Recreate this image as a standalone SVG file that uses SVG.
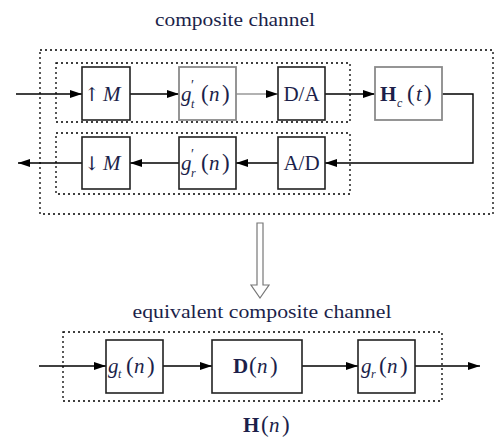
<svg xmlns="http://www.w3.org/2000/svg" width="499" height="441" viewBox="0 0 499 441">
<defs>
<marker id="ah" markerWidth="12" markerHeight="8" refX="12" refY="4" orient="auto" markerUnits="userSpaceOnUse">
<path d="M0,0 L12,4 L0,8 Z" fill="#000"/>
</marker>
<style>
.dot{fill:none;stroke:#000;stroke-width:1.3;stroke-dasharray:2 3}
.box{fill:#fff;stroke:#222;stroke-width:1.6}
.gbox{fill:#fff;stroke:#8a8a8a;stroke-width:1.8}
.ln{fill:none;stroke:#000;stroke-width:1.4}
.t{font-family:"Liberation Serif","Times New Roman",serif;font-size:21px;fill:#1c1f4a}
.i{font-style:italic}
.b{font-weight:bold}
.s{font-size:12px}
.pr{font-size:14px}
.p{font-size:23px}
.lbl{font-family:"Liberation Serif","Times New Roman",serif;font-size:19px;fill:#1c1f4a;text-anchor:middle}
</style>
</defs>
<rect width="499" height="441" fill="#fff"/>

<text class="lbl" x="235" y="26" textLength="160" lengthAdjust="spacingAndGlyphs">composite channel</text>

<g id="outer-box"><rect class="dot" x="40" y="50" width="453" height="164"/></g>
<g id="tx-box"><rect class="dot" x="56" y="63" width="294" height="59"/></g>
<g id="rx-box"><rect class="dot" x="56" y="133" width="294" height="61"/></g>

<g id="connectors">
<line class="ln" x1="16" y1="94" x2="82" y2="94" marker-end="url(#ah)"/>
<line class="ln" x1="130" y1="94" x2="179" y2="94" marker-end="url(#ah)"/>
<line class="ln" x1="236" y1="94" x2="278" y2="94" marker-end="url(#ah)" style="stroke:#999"/>
<line class="ln" x1="325" y1="94" x2="375" y2="94" marker-end="url(#ah)"/>
<path class="ln" d="M442,94 H473 V163 H325" marker-end="url(#ah)"/>
<line class="ln" x1="278" y1="163" x2="236" y2="163" marker-end="url(#ah)"/>
<line class="ln" x1="179" y1="163" x2="130" y2="163" marker-end="url(#ah)"/>
<line class="ln" x1="82" y1="163" x2="18" y2="163" marker-end="url(#ah)"/>
<line class="ln" x1="39" y1="366" x2="106" y2="366" marker-end="url(#ah)"/>
<line class="ln" x1="163" y1="366" x2="212" y2="366" marker-end="url(#ah)"/>
<line class="ln" x1="302" y1="366" x2="358" y2="366" marker-end="url(#ah)"/>
<line class="ln" x1="415" y1="366" x2="480" y2="366" marker-end="url(#ah)"/>
</g>

<g id="upsample">
<rect class="box" x="82" y="67" width="48" height="53"/>
<text class="t" y="101"><tspan x="84" font-family="DejaVu Serif" font-size="19">↑</tspan><tspan class="i" x="103">M</tspan></text>
</g>
<g id="gt-prime">
<rect class="gbox" x="179" y="67" width="57" height="53"/>
<text class="t" y="101"><tspan class="i" x="181">g</tspan><tspan class="pr" x="191" y="90">′</tspan><tspan class="i s" x="191" y="108">t</tspan><tspan class="p" x="201" y="101">(</tspan><tspan class="i" x="209" y="101">n</tspan><tspan class="p" x="222" y="101">)</tspan></text>
</g>
<g id="da">
<rect class="box" x="278" y="67" width="47" height="53"/>
<text class="t" x="301.5" y="101" text-anchor="middle">D/A</text>
</g>
<g id="hc">
<rect class="gbox" x="375" y="67" width="67" height="53"/>
<text class="t" y="101"><tspan class="b" x="380">H</tspan><tspan class="i s" x="397" y="107">c</tspan><tspan class="p" x="407" y="101">(</tspan><tspan class="i" x="416" y="101">t</tspan><tspan class="p" x="424" y="101">)</tspan></text>
</g>
<g id="ad">
<rect class="box" x="278" y="137" width="47" height="52"/>
<text class="t" x="301.5" y="170" text-anchor="middle">A/D</text>
</g>
<g id="gr-prime">
<rect class="box" x="179" y="137" width="57" height="52"/>
<text class="t" y="170"><tspan class="i" x="181">g</tspan><tspan class="pr" x="191" y="159">′</tspan><tspan class="i s" x="191" y="177">r</tspan><tspan class="p" x="201" y="170">(</tspan><tspan class="i" x="209" y="170">n</tspan><tspan class="p" x="222" y="170">)</tspan></text>
</g>
<g id="downsample">
<rect class="box" x="82" y="137" width="48" height="52"/>
<text class="t" y="170"><tspan x="84" font-family="DejaVu Serif" font-size="19">↓</tspan><tspan class="i" x="103">M</tspan></text>
</g>

<g id="transform-arrow">
<path d="M257,223 H263 V285 H269 L260,298 L251,285 H257 Z" fill="#fff" stroke="#777" stroke-width="1.2"/>
</g>

<text class="lbl" x="262" y="318" textLength="259" lengthAdjust="spacingAndGlyphs">equivalent composite channel</text>

<g id="equiv-box"><rect class="dot" x="63" y="332" width="379" height="69"/></g>

<g id="gt">
<rect class="box" x="106" y="340" width="57" height="53"/>
<text class="t" y="373"><tspan class="i" x="108">g</tspan><tspan class="i s" x="118" y="378">t</tspan><tspan class="p" x="126" y="373">(</tspan><tspan class="i" x="134" y="373">n</tspan><tspan class="p" x="147" y="373">)</tspan></text>
</g>
<g id="dn">
<rect class="box" x="212" y="340" width="90" height="53"/>
<text class="t" y="373"><tspan class="b" x="233">D</tspan><tspan class="p" x="249">(</tspan><tspan class="i" x="257">n</tspan><tspan class="p" x="270">)</tspan></text>
</g>
<g id="gr">
<rect class="box" x="358" y="340" width="57" height="53"/>
<text class="t" y="373"><tspan class="i" x="361">g</tspan><tspan class="i s" x="371" y="378">r</tspan><tspan class="p" x="379" y="373">(</tspan><tspan class="i" x="387" y="373">n</tspan><tspan class="p" x="400" y="373">)</tspan></text>
</g>

<g id="hn-label">
<text class="t" y="432"><tspan class="b" x="243">H</tspan><tspan class="p" x="261">(</tspan><tspan class="i" x="269">n</tspan><tspan class="p" x="282">)</tspan></text>
</g>
</svg>
